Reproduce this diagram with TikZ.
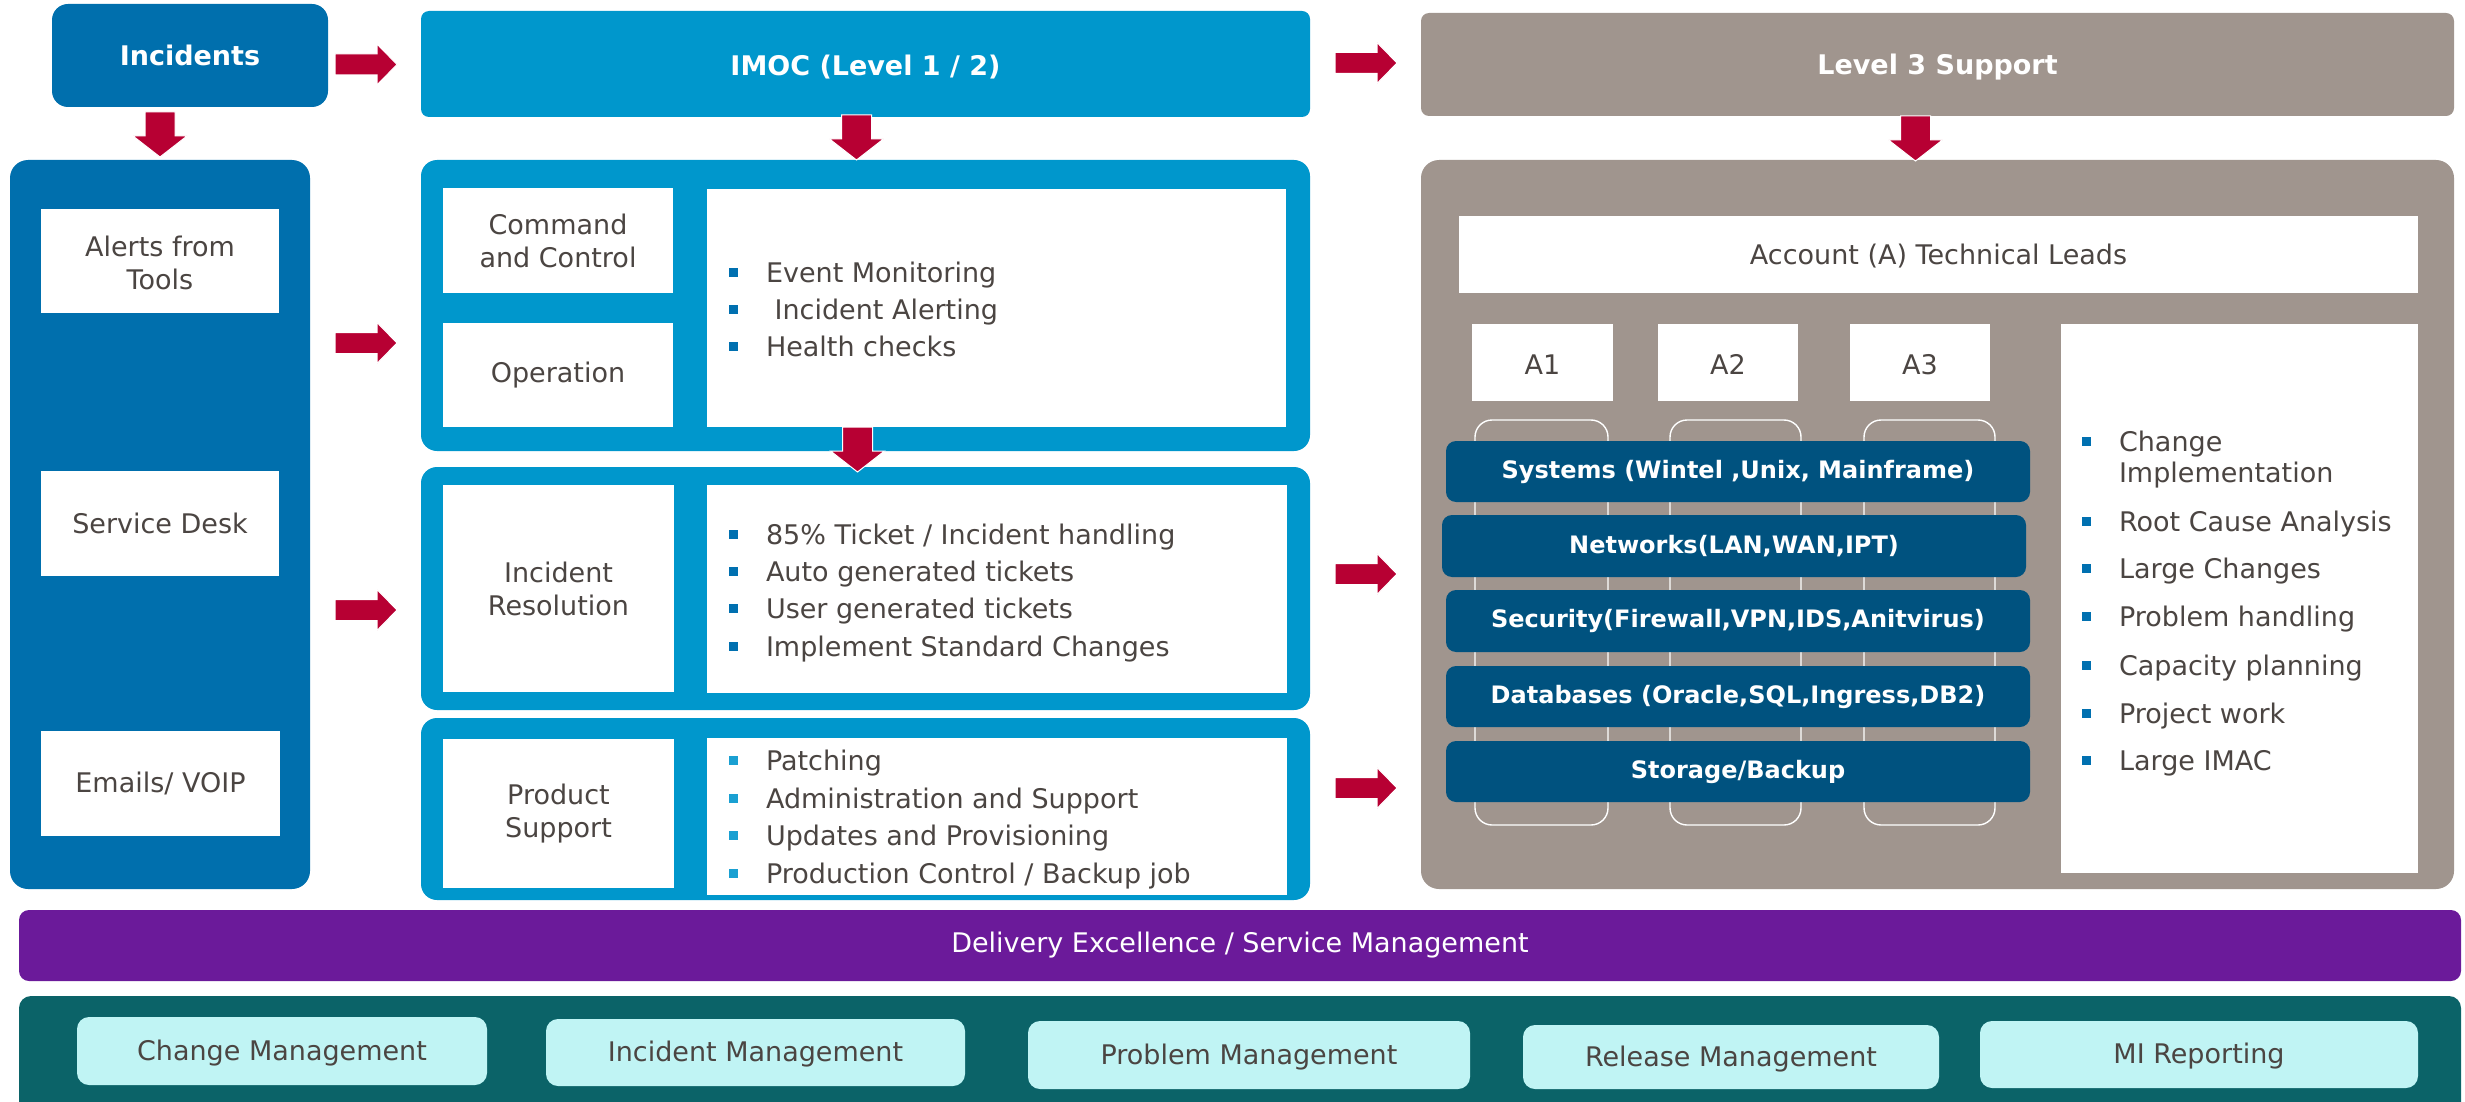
\documentclass[tikz,border=0pt]{standalone}
\usepackage{fontspec}
\setmainfont{DejaVu Sans}
\usetikzlibrary{fit}
\definecolor{incblue}{HTML}{006FAD}
\definecolor{imocblue}{HTML}{0097CC}
\definecolor{lvlgrey}{HTML}{A0958E}
\definecolor{arrred}{HTML}{B70033}
\definecolor{barblue}{HTML}{00527F}
\definecolor{purp}{HTML}{6B1A9A}
\definecolor{tealbg}{HTML}{0B6368}
\definecolor{cyanbox}{HTML}{C0F4F4}
\definecolor{txtgrey}{HTML}{4B4542}
\definecolor{bulA}{HTML}{0070B0}
\definecolor{bulB}{HTML}{1AA0D2}
\newcommand\fsN{\fontsize{27}{33}\selectfont}
\newcommand\fsBar{\fontsize{24}{28}\selectfont\bfseries}
% box: options, name, x1, y1, x2, y2
\newcommand\bx[6][]{\node[#1, fit={(#3,#4) (#5,#6)}] (#2) {};}
% bullet item: name, x of text, baseline y, bullet colour, bullet x centre, text
\newcommand\bitem[6]{%
  \fill[#4] (#5-4.5,#3-14.5) rectangle (#5+4.5,#3-5.5);
  \node[listtext] (#1) at (#2,#3) {#6};}
\begin{document}
\begin{tikzpicture}[x=1pt,y=-1pt,
  every node/.style={inner sep=0pt, outer sep=0pt},
  wb/.style={fill=white},
  wt/.style={text=txtgrey, font=\fsN, align=center},
  hdr/.style={text=white, font=\fsN\bfseries, align=center},
  barbox/.style={fill=barblue, rounded corners=10pt},
  bart/.style={text=white, font=\fsBar},
  cyanb/.style={fill=cyanbox, rounded corners=12pt},
  listtext/.style={anchor=base west, text=txtgrey, font=\fsN},
  colline/.style={draw=white, line width=1.4pt, rounded corners=17pt},
  rarrow/.pic={\filldraw[fill=arrred, draw=white, line width=1pt]
     (0,-10.5) -- (42,-10.5) -- (42,-20.5) -- (62,0) -- (42,20.5) -- (42,10.5) -- (0,10.5) -- cycle;},
  darrow/.pic={\filldraw[fill=arrred, draw=white, line width=1pt]
     (-15,0) -- (15,0) -- (15,24) -- (27,24) -- (0,45) -- (-27,24) -- (-15,24) -- cycle;}
]
\useasboundingbox (0,0) rectangle (2465,1102);
\clip (0,0) rectangle (2465,1102);

% ---------- top row ----------
\bx[fill=incblue, rounded corners=16pt]{inc}{52}{4}{328}{107}
\node[hdr] (inc-t) at (inc) {Incidents};
\bx[fill=imocblue, rounded corners=8pt]{imoc}{421}{11}{1310}{117}
\node[hdr] (imoc-t) at ([yshift=-3pt]imoc.center) {IMOC (Level 1 / 2)};
\bx[fill=lvlgrey, rounded corners=8pt]{lvl3}{1421}{13}{2454}{116}
\node[hdr] (lvl3-t) at ([yshift=-3pt]lvl3.center) {Level 3 Support};

% ---------- left column ----------
\bx[fill=incblue, rounded corners=18pt]{left}{10}{160}{310}{889}
\bx[wb]{alerts}{41}{209}{279}{313}
\node[wt] (alerts-t) at ([yshift=-2pt]alerts.center) {Alerts from\\Tools};
\bx[wb]{sdesk}{41}{471}{279}{576}
\node[wt] (sdesk-t) at (sdesk) {Service Desk};
\bx[wb]{emails}{41}{731}{280}{836}
\node[wt] (emails-t) at (emails) {Emails/ VOIP};

% ---------- IMOC groups ----------
\bx[fill=imocblue, rounded corners=16pt]{g1}{421}{160}{1310}{451}
\bx[wb]{cc}{443}{188}{673}{293}
\node[wt] (cc-t) at (cc) {Command\\and Control};
\bx[wb]{op}{443}{323}{673}{427}
\node[wt] (op-t) at (op) {Operation};
\bx[wb]{g1list}{707}{189}{1286}{427}
\bitem{b11}{766}{282}{bulA}{733}{Event Monitoring}
\bitem{b12}{766}{319}{bulA}{733}{\ Incident Alerting}
\bitem{b13}{766}{356}{bulA}{733}{Health checks}

\bx[fill=imocblue, rounded corners=16pt]{g2}{421}{467}{1310}{710}
\bx[wb]{ir}{443}{485}{674}{692}
\node[wt] (ir-t) at (ir) {Incident\\Resolution};
\bx[wb]{g2list}{707}{485}{1287}{693}
\bitem{b21}{766}{544}{bulA}{733}{85\% Ticket / Incident handling}
\bitem{b22}{766}{581}{bulA}{733}{Auto generated tickets}
\bitem{b23}{766}{618}{bulA}{733}{User generated tickets}
\bitem{b24}{766}{656}{bulA}{733}{Implement Standard Changes}

\bx[fill=imocblue, rounded corners=16pt]{g3}{421}{718}{1310}{900}
\bx[wb]{ps}{443}{739}{674}{888}
\node[wt] (ps-t) at (ps) {Product\\Support};
\bx[wb]{g3list}{707}{738}{1287}{895}
\bitem{b31}{766}{770}{bulB}{733}{Patching}
\bitem{b32}{766}{808}{bulB}{733}{Administration and Support}
\bitem{b33}{766}{845}{bulB}{733}{Updates and Provisioning}
\bitem{b34}{766}{883}{bulB}{733}{Production Control / Backup job}

% ---------- Level 3 ----------
\bx[fill=lvlgrey, rounded corners=18pt]{l3}{1421}{160}{2454}{889}
\bx[wb]{acc}{1459}{216}{2418}{293}
\node[wt] (acc-t) at ([yshift=-2pt]acc.center) {Account (A) Technical Leads};
\bx[wb]{a1}{1472}{324}{1613}{401}
\node[wt] (a1-t) at ([yshift=-2pt]a1.center) {A1};
\bx[wb]{a2}{1658}{324}{1798}{401}
\node[wt] (a2-t) at ([yshift=-2pt]a2.center) {A2};
\bx[wb]{a3}{1850}{324}{1990}{401}
\node[wt] (a3-t) at ([yshift=-2pt]a3.center) {A3};
\draw[colline] (1475,420) rectangle (1608,825);
\draw[colline] (1670,420) rectangle (1801,825);
\draw[colline] (1864,420) rectangle (1995,825);
\bx[barbox]{sys}{1446}{441}{2030}{502}
\node[bart] (sys-t) at (sys) {Systems (Wintel ,Unix, Mainframe)};
\bx[barbox]{net}{1442}{515}{2026}{577}
\node[bart] (net-t) at (net) {Networks(LAN,WAN,IPT)};
\bx[barbox]{sec}{1446}{590}{2030}{652}
\node[bart] (sec-t) at (sec) {Security(Firewall,VPN,IDS,Anitvirus)};
\bx[barbox]{db}{1446}{666}{2030}{727}
\node[bart] (db-t) at (db) {Databases (Oracle,SQL,Ingress,DB2)};
\bx[barbox]{sto}{1446}{741}{2030}{802}
\node[bart] (sto-t) at (sto) {Storage/Backup};
\bx[wb]{rlist}{2061}{324}{2418}{873}
\bitem{r1}{2119}{451}{bulA}{2086}{Change}
\node[listtext] (r1b) at (2119,482) {Implementation};
\bitem{r2}{2119}{531}{bulA}{2086}{Root Cause Analysis}
\bitem{r3}{2119}{578}{bulA}{2086}{Large Changes}
\bitem{r4}{2119}{626}{bulA}{2086}{Problem handling}
\bitem{r5}{2119}{675}{bulA}{2086}{Capacity planning}
\bitem{r6}{2119}{723}{bulA}{2086}{Project work}
\bitem{r7}{2119}{770}{bulA}{2086}{Large IMAC}

% ---------- bottom bands ----------
\bx[fill=purp, rounded corners=10pt]{dex}{19}{910}{2461}{981}
\node[text=white, font=\fsN] (dex-t) at (dex) {Delivery Excellence / Service Management};
\bx[fill=tealbg, rounded corners=12pt]{teal}{19}{996}{2461}{1120}
\bx[cyanb]{cm}{77}{1017}{487}{1085}
\node[wt] (cm-t) at ([yshift=-2pt]cm.center) {Change Management};
\bx[cyanb]{im}{546}{1019}{965}{1086}
\node[wt] (im-t) at ([yshift=-2pt]im.center) {Incident Management};
\bx[cyanb]{pm}{1028}{1021}{1470}{1089}
\node[wt] (pm-t) at ([yshift=-2pt]pm.center) {Problem Management};
\bx[cyanb]{rm}{1523}{1025}{1939}{1089}
\node[wt] (rm-t) at ([yshift=-2pt]rm.center) {Release Management};
\bx[cyanb]{mi}{1980}{1021}{2418}{1088}
\node[wt] (mi-t) at ([yshift=-2pt]mi.center) {MI Reporting};

% ---------- arrows ----------
\pic (ar1) at (335,64.5) {rarrow};
\pic (ar2) at (335,343) {rarrow};
\pic (ar3) at (335,610) {rarrow};
\pic (ar4) at (1335,63) {rarrow};
\pic (ar5) at (1335,574) {rarrow};
\pic (ar6) at (1335,788) {rarrow};
\pic (ad1) at (160,112) {darrow};
\pic (ad2) at (856.5,115) {darrow};
\pic (ad3) at (857.5,427) {darrow};
\pic (ad4) at (1915.5,116) {darrow};
\end{tikzpicture}
\end{document}
